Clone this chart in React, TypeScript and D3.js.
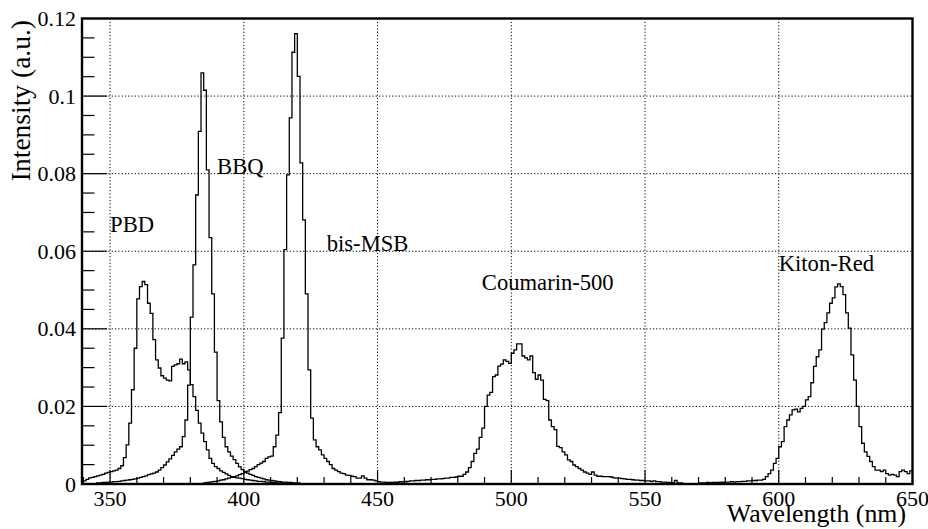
import React from 'react';
import * as d3 from 'd3';

// ---- data (1 nm bins, value of bin starting at START + i) ----
const PBD_START = 340;
const PBD_VALUES = [
  0.0008, 0.0012, 0.0016, 0.0017, 0.0019, 0.0021, 0.0023, 0.0025, 0.0028, 0.0030,
  0.0032, 0.0034, 0.0036, 0.0040, 0.0047, 0.0068, 0.0101, 0.0157, 0.0243, 0.0350,
  0.0477, 0.0509, 0.0522, 0.0514, 0.0466, 0.0440, 0.0372, 0.0320, 0.0299, 0.0279,
  0.0273, 0.0268, 0.0266, 0.0303, 0.0307, 0.0310, 0.0322, 0.0310, 0.0315, 0.0294,
  0.0256, 0.0225, 0.0190, 0.0157, 0.0131, 0.0109, 0.0088, 0.0066, 0.0053, 0.0045,
  0.0040, 0.0034, 0.0030, 0.0026, 0.0022, 0.0019, 0.0017, 0.0016, 0.0015, 0.0014,
  0.0012, 0.0011, 0.0010, 0.0009, 0.0008, 0.0007, 0.0007, 0.0006, 0.0005, 0.0005,
  0.0004, 0.0004, 0.0003, 0.0003, 0.0003, 0.0002,
];

const BBQ_START = 345;
const BBQ_VALUES = [
  0.0003, 0.0003, 0.0004, 0.0004, 0.0005, 0.0005, 0.0006, 0.0006, 0.0007, 0.0008,
  0.0009, 0.0010, 0.0011, 0.0012, 0.0013, 0.0015, 0.0017, 0.0019, 0.0021, 0.0024,
  0.0026, 0.0028, 0.0031, 0.0036, 0.0042, 0.0049, 0.0057, 0.0065, 0.0074, 0.0083,
  0.0090, 0.0096, 0.0122, 0.0165, 0.0255, 0.0430, 0.0565, 0.0745, 0.0909, 0.1060,
  0.1015, 0.0810, 0.0635, 0.0490, 0.0340, 0.0215, 0.0160, 0.0120, 0.0096, 0.0083,
  0.0072, 0.0063, 0.0053, 0.0044, 0.0037, 0.0032, 0.0028, 0.0025, 0.0022, 0.0019,
  0.0017, 0.0015, 0.0013, 0.0011, 0.0010, 0.0009, 0.0008, 0.0007, 0.0006, 0.0005,
  0.0005, 0.0004, 0.0004, 0.0003, 0.0003, 0.0003,
];

const BISMSB_START = 385;
const BISMSB_VALUES = [
  0.0003, 0.0004, 0.0005, 0.0006, 0.0007, 0.0008, 0.0010, 0.0011, 0.0013, 0.0015,
  0.0017, 0.0019, 0.0021, 0.0024, 0.0027, 0.0030, 0.0033, 0.0037, 0.0040, 0.0045,
  0.0050, 0.0054, 0.0058, 0.0066, 0.0070, 0.0072, 0.0096, 0.0126, 0.0184, 0.0376,
  0.0604, 0.0797, 0.0944, 0.1113, 0.1161, 0.1051, 0.0828, 0.0681, 0.0490, 0.0294,
  0.0170, 0.0114, 0.0096, 0.0088, 0.0075, 0.0066, 0.0058, 0.0050, 0.0040, 0.0036,
  0.0032, 0.0028, 0.0027, 0.0023, 0.0022, 0.0020, 0.0019, 0.0015, 0.0015, 0.0021,
  0.0015, 0.0011, 0.0011, 0.0010, 0.0008, 0.0006, 0.0005, 0.0005, 0.0004, 0.0004,
  0.0003, 0.0003, 0.0003, 0.0002, 0.0002, 0.0002,
];

const COUMARIN_START = 455;
const COUMARIN_VALUES = [
  0.0004, 0.0005, 0.0005, 0.0006, 0.0006, 0.0007, 0.0007, 0.0008, 0.0008, 0.0009,
  0.0009, 0.0010, 0.0010, 0.0011, 0.0011, 0.0012, 0.0012, 0.0013, 0.0013, 0.0014,
  0.0015, 0.0015, 0.0017, 0.0017, 0.0018, 0.0020, 0.0020, 0.0025, 0.0031, 0.0042,
  0.0058, 0.0079, 0.0090, 0.0120, 0.0144, 0.0200, 0.0229, 0.0236, 0.0277, 0.0281,
  0.0304, 0.0309, 0.0320, 0.0316, 0.0311, 0.0337, 0.0346, 0.0361, 0.0361, 0.0330,
  0.0325, 0.0320, 0.0330, 0.0287, 0.0270, 0.0281, 0.0268, 0.0218, 0.0215, 0.0165,
  0.0148, 0.0140, 0.0097, 0.0094, 0.0083, 0.0075, 0.0062, 0.0058, 0.0049, 0.0045,
  0.0040, 0.0036, 0.0031, 0.0028, 0.0025, 0.0031, 0.0023, 0.0020, 0.0020, 0.0019,
  0.0019, 0.0019, 0.0018, 0.0016, 0.0015, 0.0015, 0.0014, 0.0013, 0.0012, 0.0012,
  0.0011, 0.0010, 0.0010, 0.0009, 0.0009, 0.0008, 0.0008, 0.0007, 0.0008, 0.0006,
  0.0006, 0.0005, 0.0005, 0.0004, 0.0004, 0.0003, 0.0009, 0.0003, 0.0003,
];

const KITON_START = 570;
const KITON_VALUES = [
  0.0003, 0.0003, 0.0003, 0.0004, 0.0003, 0.0004, 0.0004, 0.0004, 0.0005, 0.0004,
  0.0005, 0.0005, 0.0006, 0.0005, 0.0006, 0.0006, 0.0007, 0.0007, 0.0008, 0.0008,
  0.0009, 0.0009, 0.0010, 0.0010, 0.0012, 0.0019, 0.0027, 0.0036, 0.0053, 0.0066,
  0.0096, 0.0109, 0.0148, 0.0165, 0.0178, 0.0191, 0.0193, 0.0186, 0.0195, 0.0200,
  0.0217, 0.0225, 0.0261, 0.0303, 0.0328, 0.0346, 0.0399, 0.0416, 0.0441, 0.0466,
  0.0480, 0.0508, 0.0516, 0.0509, 0.0488, 0.0441, 0.0402, 0.0333, 0.0268, 0.0200,
  0.0148, 0.0105, 0.0083, 0.0071, 0.0058, 0.0045, 0.0036, 0.0036, 0.0032, 0.0036,
  0.0027, 0.0023, 0.0025, 0.0023, 0.0019, 0.0032, 0.0036, 0.0032, 0.0027, 0.0034,
];

const SERIES_NAMES = ['PBD', 'BBQ', 'bis-MSB', 'Coumarin-500', 'Kiton-Red'];
const SERIES_STARTS = [PBD_START, BBQ_START, BISMSB_START, COUMARIN_START, KITON_START];
const SERIES_VALUES = [PBD_VALUES, BBQ_VALUES, BISMSB_VALUES, COUMARIN_VALUES, KITON_VALUES];
// label anchors in data units (wavelength, intensity)
const LABEL_X = [350, 390, 431, 489, 600];
const LABEL_Y = [0.065, 0.08, 0.06, 0.05, 0.055];

const X_TICKS = [350, 400, 450, 500, 550, 600, 650];
const X_TICK_LABELS = ['350', '400', '450', '500', '550', '600', '650'];
const Y_TICKS = [0, 0.02, 0.04, 0.06, 0.08, 0.1, 0.12];
const Y_TICK_LABELS = ['0', '0.02', '0.04', '0.06', '0.08', '0.1', '0.12'];
const X_TITLE = 'Wavelength (nm)';
const Y_TITLE = 'Intensity (a.u.)';

const X_MIN = 339.5;
const X_MAX = 650;
const BIN_FIRST = 340;
const BIN_LAST = 649;

const W = 928;
const H = 529;
const FRAME = { left: 82, right: 912.5, top: 18.5, bottom: 484 };
const FONT =
  "Liberation Serif, 'Liberation Serif', Tinos, 'Times New Roman', Times, 'Nimbus Roman', FreeSerif, 'Noto Serif', 'DejaVu Serif', serif";

export default function App() {
  const x = d3.scaleLinear().domain([X_MIN, X_MAX]).range([FRAME.left, FRAME.right]);
  const y = d3.scaleLinear().domain([0, 0.12]).range([FRAME.bottom, FRAME.top]);

  const line = d3
    .line<[number, number]>()
    .x((d) => x(d[0]))
    .y((d) => y(d[1]))
    .curve(d3.curveStepAfter);

  const paths = SERIES_VALUES.map((vals, si) => {
    const start = SERIES_STARTS[si];
    const pts: [number, number][] = [];
    for (let w = BIN_FIRST; w <= BIN_LAST; w++) {
      const idx = w - start;
      const v = idx >= 0 && idx < vals.length ? vals[idx] : 0;
      pts.push([w === BIN_FIRST ? X_MIN : w, v]);
    }
    pts.push([X_MAX, pts[pts.length - 1][1]]);
    return line(pts) || '';
  });

  const xMinor = d3.range(340, 651, 10);
  const yMinor = d3.range(0, 0.1201, 0.005);
  const xMajorLen = 14;
  const xMinorLen = 7;
  const yMajorLen = 25;
  const yMinorLen = 12.5;
  const textStyle = { fontFamily: FONT };

  return (
    <svg
      width={W}
      height={H}
      viewBox={`0 0 ${W} ${H}`}
      style={{ position: 'absolute', left: 0, top: 0, background: '#fff', fontFamily: FONT }}
    >
      <defs>
        <clipPath id="frameClip">
          <rect x={FRAME.left} y={FRAME.top - 1} width={FRAME.right - FRAME.left} height={FRAME.bottom - FRAME.top + 1} />
        </clipPath>
      </defs>
      <rect x={0} y={0} width={W} height={H} fill="#fff" />

      {/* grid */}
      <g stroke="#000" strokeWidth={1} strokeDasharray="1.2 2.1" fill="none">
        {X_TICKS.filter((t) => t < X_MAX).map((t) => (
          <line key={'gx' + t} x1={x(t)} x2={x(t)} y1={FRAME.top} y2={FRAME.bottom} />
        ))}
        {Y_TICKS.filter((t) => t > 0 && t < 0.12).map((t) => (
          <line key={'gy' + t} x1={FRAME.left} x2={FRAME.right} y1={y(t)} y2={y(t)} />
        ))}
      </g>

      {/* histograms */}
      <g clipPath="url(#frameClip)" fill="none" stroke="#000" strokeWidth={1.3} strokeLinejoin="miter">
        {paths.map((d, i) => (
          <path key={SERIES_NAMES[i]} d={d} />
        ))}
      </g>

      {/* ticks */}
      <g stroke="#000" strokeWidth={1.2}>
        {xMinor.map((t) => {
          const major = t % 50 === 0;
          return (
            <line
              key={'tx' + t}
              x1={x(t)}
              x2={x(t)}
              y1={FRAME.bottom}
              y2={FRAME.bottom - (major ? xMajorLen : xMinorLen)}
            />
          );
        })}
        {yMinor.map((t, i) => {
          const major = i % 4 === 0;
          return (
            <line
              key={'ty' + i}
              x1={FRAME.left}
              x2={FRAME.left + (major ? yMajorLen : yMinorLen)}
              y1={y(t)}
              y2={y(t)}
            />
          );
        })}
      </g>

      {/* frame */}
      <rect
        x={FRAME.left}
        y={FRAME.top}
        width={FRAME.right - FRAME.left}
        height={FRAME.bottom - FRAME.top}
        fill="none"
        stroke="#000"
        strokeWidth={2.4}
      />

      {/* tick labels */}
      <g fontSize={22} fill="#000">
        {X_TICKS.map((t, i) => (
          <text key={'lx' + t} x={x(t)} y={506} textAnchor="middle" style={textStyle}>
            {X_TICK_LABELS[i]}
          </text>
        ))}
        {Y_TICKS.map((t, i) => (
          <text key={'ly' + t} x={76} y={y(t) + 7.5} textAnchor="end" style={textStyle}>
            {Y_TICK_LABELS[i]}
          </text>
        ))}
      </g>

      {/* axis titles */}
      <text x={906} y={522} fontSize={25.8} textAnchor="end" fill="#000" style={textStyle}>
        {X_TITLE}
      </text>
      <text
        transform={`translate(29.5, 20) rotate(-90)`}
        fontSize={27.5}
        textAnchor="end"
        fill="#000"
        style={textStyle}
      >
        {Y_TITLE}
      </text>

      {/* series labels */}
      <g fontSize={22.6} fill="#000">
        {SERIES_NAMES.map((n, i) => (
          <text key={'n' + n} x={x(LABEL_X[i])} y={y(LABEL_Y[i])} style={textStyle}>
            {n}
          </text>
        ))}
      </g>
    </svg>
  );
}
